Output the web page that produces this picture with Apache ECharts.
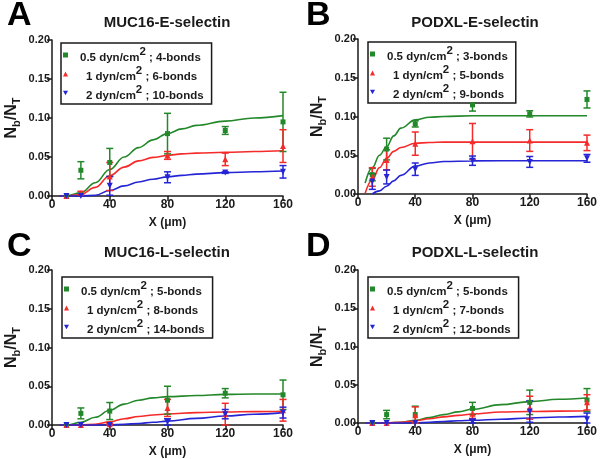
<!DOCTYPE html>
<html><head><meta charset="utf-8">
<script src="https://cdn.jsdelivr.net/npm/echarts@6/dist/echarts.min.js"></script>
<style>html,body{margin:0;padding:0;background:#fff}#c{width:600px;height:459px}</style>
</head><body><div id="c"></div>
<script>
// ---------- data ----------
const panelLetters = ['A', 'B', 'C', 'D'];
const panelTitles = ['MUC16-E-selectin', 'PODXL-E-selectin', 'MUC16-L-selectin', 'PODXL-L-selectin'];
const shearLabels = ['0.5', '1', '2'];
const bondsA = [4, 6, 10];
const bondsB = [3, 5, 9];
const bondsC = [5, 8, 14];
const bondsD = [5, 7, 12];
const xTicks = [0, 40, 80, 120, 160];
const yTicks = [0, 0.05, 0.10, 0.15, 0.20];

const xPts = [10, 20, 40, 80, 120, 160];
// panel A points (mean, error)
const ptsA_g = [0, 0.033, 0.043, 0.080, 0.084, 0.095];
const errA_g = [0, 0.011, 0.018, 0.026, 0.005, 0.038];
const ptsA_r = [0, 0.004, 0.025, 0.052, 0.047, 0.064];
const errA_r = [0, 0.002, 0.018, 0.005, 0.008, 0.021];
const ptsA_b = [0, 0, 0.013, 0.024, 0.030, 0.031];
const errA_b = [0, 0, 0.012, 0.007, 0.001, 0.008];
// panel B
const ptsB_g = [0.025, 0.058, 0.0905, 0.115, 0.1034, 0.122];
const errB_g = [0.008, 0.014, 0.004, 0.008, 0.004, 0.011];
const ptsB_r = [0.022, 0.044, 0.065, 0.068, 0.069, 0.066];
const errB_r = [0.012, 0.013, 0.015, 0.023, 0.014, 0.010];
const ptsB_b = [0.016, 0.022, 0.032, 0.043, 0.0414, 0.046];
const errB_b = [0.010, 0.009, 0.008, 0.006, 0.007, 0.005];
// panel C
const ptsC_g = [0, 0.015, 0.018, 0.032, 0.041, 0.039];
const errC_g = [0, 0.007, 0.011, 0.018, 0.006, 0.019];
const ptsC_r = [0, 0, 0.001, 0.022, 0.014, 0.019];
const errC_r = [0, 0, 0.001, 0.011, 0.014, 0.014];
const ptsC_b = [0, 0, 0, 0.004, 0.014, 0.016];
const errC_b = [0, 0, 0, 0.004, 0.006, 0.007];
// panel D
const ptsD_g = [0, 0.011, 0.011, 0.019, 0.027, 0.030];
const errD_g = [0, 0.0055, 0.011, 0.008, 0.016, 0.015];
const ptsD_r = [0, 0, 0.010, 0.012, 0.020, 0.027];
const errD_r = [0, 0, 0.011, 0.006, 0.015, 0.010];
const ptsD_b = [0, 0, 0, 0.002, 0.015, 0.005];
const errD_b = [0, 0, 0, 0.003, 0.014, 0.008];

// fitted curves
const xCurveA = [5, 10, 20, 30, 40, 50, 60, 70, 80, 90, 100, 120, 140, 160];
const fitA_g = [0, 0.0005, 0.004, 0.017, 0.034, 0.050, 0.062, 0.072, 0.080, 0.086, 0.0905, 0.096, 0.100, 0.103];
const fitA_r = [0, 0, 0.002, 0.011, 0.026, 0.037, 0.045, 0.0495, 0.052, 0.054, 0.055, 0.056, 0.057, 0.058];
const fitA_b = [0, 0, 0, 0.001, 0.007, 0.013, 0.018, 0.0215, 0.0245, 0.0265, 0.028, 0.030, 0.031, 0.032];
const xCurveB = [5, 10, 15, 20, 25, 30, 40, 50, 60, 80, 120, 160];
const fitB_g = [0.014, 0.034, 0.050, 0.061, 0.075, 0.085, 0.0957, 0.099, 0.100, 0.101, 0.101, 0.101];
const fitB_r = [0.001, 0.018, 0.034, 0.046, 0.055, 0.060, 0.0655, 0.0665, 0.067, 0.067, 0.067, 0.067];
const fitB_b = [null, 0, 0.004, 0.010, 0.017, 0.024, 0.036, 0.040, 0.042, 0.0427, 0.043, 0.043];
const xCurveCD = [5, 10, 20, 30, 40, 50, 60, 70, 80, 100, 120, 140, 160];
const fitC_g = [0, 0, 0.0034, 0.010, 0.019, 0.027, 0.032, 0.035, 0.0366, 0.038, 0.0395, 0.040, 0.040];
const fitC_r = [0, 0, 0, 0.001, 0.004, 0.008, 0.011, 0.013, 0.0142, 0.016, 0.0168, 0.0173, 0.0177];
const fitC_b = [0, 0, 0, 0, 0, 0.001, 0.002, 0.0035, 0.005, 0.0086, 0.0116, 0.0138, 0.016];
const fitD_g = [0, 0, 0, 0.001, 0.0035, 0.007, 0.011, 0.0145, 0.018, 0.024, 0.028, 0.031, 0.0326];
const fitD_r = [0, 0, 0, 0.001, 0.003, 0.0055, 0.008, 0.010, 0.0117, 0.0143, 0.015, 0.0155, 0.016];
const fitD_b = [0, 0, 0, 0, 0, 0.001, 0.002, 0.003, 0.0035, 0.005, 0.0065, 0.0078, 0.0087];

// ---------- styling / layout ----------
const FONT = '"Liberation Sans", Arial, Helvetica, sans-serif';
const TXT = '#1a1a1a';
const colors = ['#23882a', '#f52a2a', '#2525d5'];
const symbols = ['rect', 'triangle', 'triangle'];
const symbolRot = [0, 0, 180];
const symbolSizes = [5, 6, 6];
const legendIcons = ['rect', 'triangle', 'path://M0,0L10,0L5,9Z'];

const panels = [
  { pts: [ptsA_g, ptsA_r, ptsA_b], err: [errA_g, errA_r, errA_b], xc: xCurveA, fit: [fitA_g, fitA_r, fitA_b], bonds: bondsA,
    grid: { left: 52, top: 40, width: 231, height: 156 }, legend: { left: 61, top: 43 }, title: [167, 23], letter: [7, 18] },
  { pts: [ptsB_g, ptsB_r, ptsB_b], err: [errB_g, errB_r, errB_b], xc: xCurveB, fit: [fitB_g, fitB_r, fitB_b], bonds: bondsB,
    grid: { left: 358, top: 39, width: 233, height: 155 }, legend: { left: 368, top: 42 }, title: [475, 23], letter: [306, 18] },
  { pts: [ptsC_g, ptsC_r, ptsC_b], err: [errC_g, errC_r, errC_b], xc: xCurveCD, fit: [fitC_g, fitC_r, fitC_b], bonds: bondsC,
    grid: { left: 52, top: 270, width: 231, height: 155 }, legend: { left: 62, top: 277 }, title: [167, 253], letter: [7, 249] },
  { pts: [ptsD_g, ptsD_r, ptsD_b], err: [errD_g, errD_r, errD_b], xc: xCurveCD, fit: [fitD_g, fitD_r, fitD_b], bonds: bondsD,
    grid: { left: 358, top: 270, width: 231, height: 153 }, legend: { left: 368, top: 277 }, title: [475, 253], letter: [306, 249] }
];

const legendLabelMap = {};
const grids = [], xAxes = [], yAxes = [], legends = [], series = [], graphics = [];

const axisCommon = {
  axisLine: { show: true, onZero: false, lineStyle: { color: TXT, width: 1.5 } },
  axisTick: { show: true, inside: false, length: 5, lineStyle: { color: TXT, width: 1.5 } },
  splitLine: { show: false }
};

panels.forEach((p, pi) => {
  grids.push(Object.assign({ containLabel: false }, p.grid));
  xAxes.push(Object.assign({}, axisCommon, {
    type: 'value', gridIndex: pi, min: xTicks[0], max: xTicks[xTicks.length - 1], interval: 40,
    axisLabel: { color: TXT, fontFamily: FONT, fontWeight: 'bold', fontSize: 12, margin: 3 },
    name: 'X (μm)', nameLocation: 'middle', nameGap: 21,
    nameTextStyle: { color: TXT, fontFamily: FONT, fontWeight: 'bold', fontSize: 12 }
  }));
  yAxes.push(Object.assign({}, axisCommon, {
    type: 'value', gridIndex: pi, min: yTicks[0], max: yTicks[yTicks.length - 1], interval: 0.05,
    axisLabel: { color: TXT, fontFamily: FONT, fontWeight: 'bold', fontSize: 11, margin: 2, formatter: v => v.toFixed(2) },
    name: '{n|N}{s|b}{n|/N}{s|T}', nameLocation: 'middle', nameGap: 30, nameRotate: 90,
    nameTextStyle: {
      color: TXT,
      rich: {
        n: { fontFamily: FONT, fontWeight: 'bold', fontSize: 16, color: TXT, verticalAlign: 'top' },
        s: { fontFamily: FONT, fontWeight: 'bold', fontSize: 11, color: TXT, verticalAlign: 'bottom', padding: [7, 0, 0, 0] }
      }
    }
  }));

  const legendData = [];
  for (let k = 0; k < 3; k++) {
    const name = panelLetters[pi] + k;
    legendData.push({ name: name, icon: legendIcons[k] });
    const pad = k === 0 ? '{p0|}' : '{p1|}';
    legendLabelMap[name] = pad + '{t|' + shearLabels[k] + ' dyn/cm}{u|2}{t| ; ' + p.bonds[k] + '-bonds}';

    // fitted curve
    series.push({
      type: 'line', name: name + '-fit', xAxisIndex: pi, yAxisIndex: pi, z: 2,
      data: p.xc.map((x, i) => [x, p.fit[k][i]]),
      smooth: 0.4, smoothMonotone: 'x', showSymbol: false, symbol: 'none', silent: true,
      lineStyle: { color: colors[k], width: 1.6 }, clip: false
    });
    // error bars
    const col = colors[k];
    series.push({
      type: 'custom', name: name + '-err', xAxisIndex: pi, yAxisIndex: pi, z: 3, silent: true,
      data: xPts.map((x, i) => [x, p.pts[k][i], p.err[k][i]]),
      encode: { x: 0, y: 1 },
      renderItem: (params, api) => {
        const x = api.value(0), y = api.value(1), e = api.value(2);
        if (!e) return { type: 'group', children: [] };
        const top = api.coord([x, y + e]);
        const bot = api.coord([x, Math.max(0, y - e)]);
        const hw = 3.5;
        const st = { stroke: col, lineWidth: 1.5 };
        return {
          type: 'group', children: [
            { type: 'line', shape: { x1: top[0], y1: top[1], x2: bot[0], y2: bot[1] }, style: st },
            { type: 'line', shape: { x1: top[0] - hw, y1: top[1], x2: top[0] + hw, y2: top[1] }, style: st },
            { type: 'line', shape: { x1: bot[0] - hw, y1: bot[1], x2: bot[0] + hw, y2: bot[1] }, style: st }
          ]
        };
      }
    });
    // points
    series.push({
      type: 'scatter', name: name, xAxisIndex: pi, yAxisIndex: pi, z: 4,
      data: xPts.map((x, i) => [x, p.pts[k][i]]),
      symbol: symbols[k], symbolRotate: symbolRot[k], symbolSize: symbolSizes[k],
      itemStyle: { color: colors[k], opacity: 1 }, clip: false
    });
  }

  legends.push({
    show: true, orient: 'vertical', left: p.legend.left, top: p.legend.top,
    data: legendData, itemWidth: 5, itemHeight: 5, itemGap: 1,
    padding: [3, 8, 2, 2], borderColor: TXT, borderWidth: 1.5, backgroundColor: '#fff',
    selectedMode: false,
    formatter: n => legendLabelMap[n],
    textStyle: {
      color: TXT,
      rich: {
        t: { fontFamily: FONT, fontWeight: 'bold', fontSize: 11.5, color: TXT, verticalAlign: 'bottom', padding: [6, 0, 0, 0] },
        u: { fontFamily: FONT, fontWeight: 'bold', fontSize: 11.5, color: TXT, verticalAlign: 'top' },
        p0: { width: 7 },
        p1: { width: 13 }
      }
    }
  });

  graphics.push({
    type: 'text', left: p.letter[0], top: p.letter[1] - 19, z: 10,
    style: { text: panelLetters[pi], font: 'bold 34px ' + FONT, fill: '#000' }
  });
  graphics.push({
    type: 'text', x: p.title[0], y: p.title[1], z: 10,
    style: { text: panelTitles[pi], font: 'bold 15px ' + FONT, fill: TXT, align: 'center', verticalAlign: 'middle' }
  });
});

const chart = echarts.init(document.getElementById('c'), null, { renderer: 'canvas' });
chart.setOption({
  animation: false,
  backgroundColor: '#fff',
  grid: grids, xAxis: xAxes, yAxis: yAxes, legend: legends, series: series,
  graphic: graphics
});
</script></body></html>
